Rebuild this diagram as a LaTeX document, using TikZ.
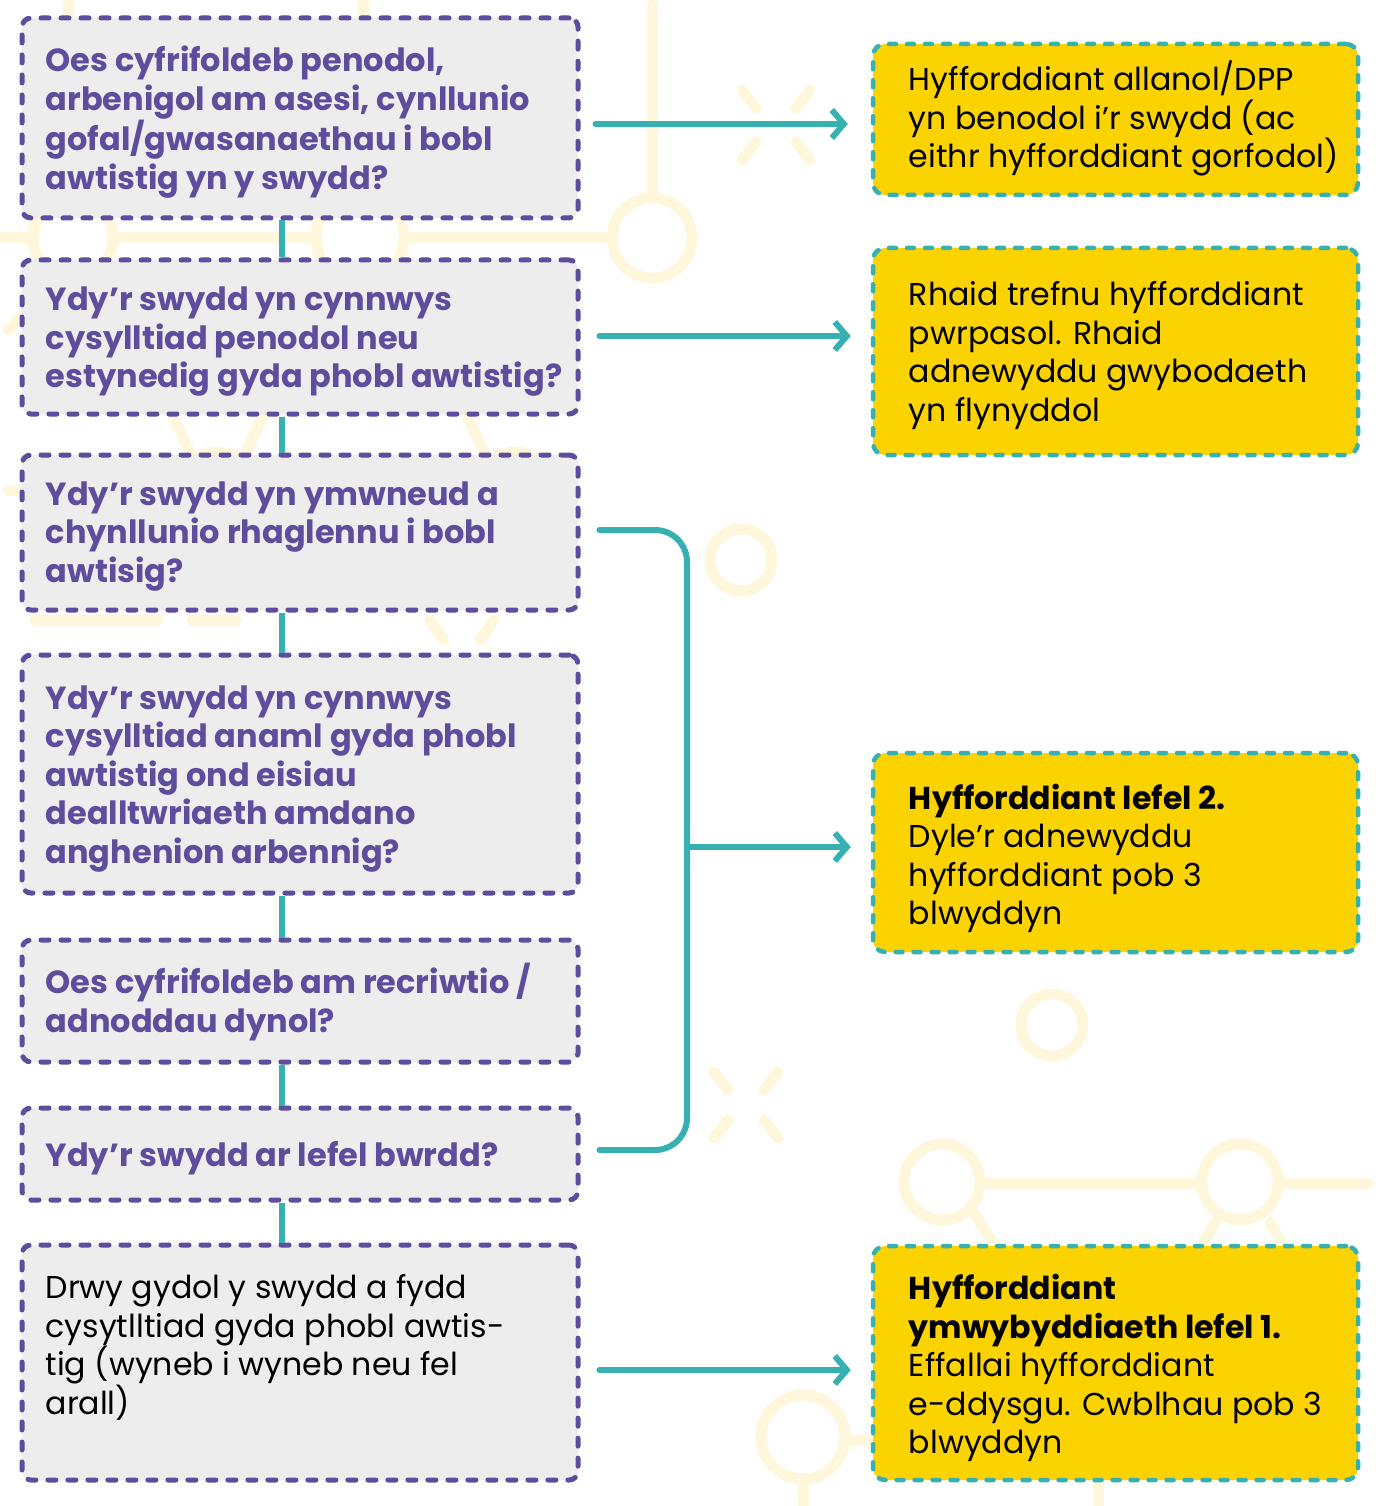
\documentclass[tikz,border=0pt]{standalone}
\usepackage{fontspec}
\setmainfont{Poppins}
\usetikzlibrary{arrows.meta,calc}
\definecolor{purp}{HTML}{5E4C9C}
\definecolor{boxgray}{HTML}{EDEDED}
\definecolor{yel}{HTML}{FBD300}
\definecolor{tealc}{HTML}{37B0B2}
\definecolor{cream}{HTML}{FFF7DC}
\tikzset{
  qbox/.style={draw=purp, fill=boxgray, line width=5pt, dash pattern=on 8pt off 12pt, line cap=round, rounded corners=9pt, inner sep=0pt, minimum width=556pt},
  abox/.style={draw=tealc, fill=yel, line width=4.5pt, dash pattern=on 7pt off 11pt, line cap=round, rounded corners=12pt, inner sep=0pt, minimum width=485pt},
  qtext/.style={anchor=west, inner sep=0pt, align=left, text=purp, font=\bfseries\fontsize{32}{38.5}\selectfont},
  atext/.style={anchor=west, inner sep=0pt, align=left, text=black, font=\fontsize{31.6}{38.5}\selectfont},
  link/.style={draw=tealc, line width=6pt, line cap=round},
  arr/.style={link, -{Straight Barb[length=12pt,width=28pt]}},
  deco/.style={draw=cream, line width=11pt, line cap=round},
  decoring/.style={draw=cream, line width=11pt, fill=white},
}
\begin{document}
\begin{tikzpicture}[x=1pt,y=-1pt]
\useasboundingbox (0,0) rectangle (1375,1506);
\fill[white] (0,0) rectangle (1375,1506);
% background decoration
\draw[deco] (0,238) -- (612,238);
\draw[deco] (652,5) -- (652,198);
\draw[deco] (68,0) -- (68,200);
\draw[deco] (363,0) -- (363,196);
\draw[decoring] (73,238) circle[radius=40];
\draw[decoring] (360,238) circle[radius=44];
\draw[decoring] (652,238) circle[radius=40];
\draw[deco] (742,90) -- (756,108);
\draw[deco] (810,90) -- (796,108);
\draw[deco] (756,142) -- (742,160);
\draw[deco] (796,142) -- (810,160);
\draw[deco] (172,414) -- (190,452);
\draw[deco] (264,414) -- (246,452);
\draw[decoring] (217,492) circle[radius=40];
\draw[deco] (466,414) -- (484,452);
\draw[decoring] (515,492) circle[radius=40];
\draw[deco] (35,620) -- (158,620);
\draw[deco] (192,620) -- (236,620);
\draw[deco] (430,620) -- (444,640);
\draw[deco] (494,620) -- (480,640);
\draw[deco] (8,490) -- (20,490);
\draw[deco] (8,330) -- (20,318);
\draw[decoring] (741,560) circle[radius=31];
\draw[decoring] (1052,1025) circle[radius=31];
\draw[deco] (714,1072) -- (728,1090);
\draw[deco] (778,1072) -- (764,1090);
\draw[deco] (728,1120) -- (714,1138);
\draw[deco] (764,1120) -- (778,1138);
\draw[deco] (942,1183) -- (1368,1183);
\draw[deco] (975,1215) -- (998,1250);
\draw[deco] (1215,1222) -- (1200,1250);
\draw[deco] (1270,1222) -- (1285,1250);
\draw[decoring] (942,1182) circle[radius=38];
\draw[decoring] (1240,1182) circle[radius=38];
\draw[deco] (800,1440) -- (873,1440);
\draw[deco] (803,1480) -- (803,1506);
\draw[deco] (1098,1480) -- (1098,1506);
\draw[decoring] (803,1437) circle[radius=42];
% question boxes
\node[qbox, minimum height=200pt] (q1) at (300,118) {};
\node[qbox, minimum height=154pt] (q2) at (300,337) {};
\node[qbox, minimum height=155pt] (q3) at (300,532.5) {};
\node[qbox, minimum height=238pt] (q4) at (300,774) {};
\node[qbox, minimum height=122pt] (q5) at (300,1001) {};
\node[qbox, minimum height=92pt] (q6) at (300,1154) {};
\node[qbox, minimum height=235pt] (q7) at (300,1362.5) {};
% answer boxes
\node[abox, minimum height=151pt] (r1) at (1115.5,119.5) {};
\node[abox, minimum height=207pt] (r2) at (1115.5,351.5) {};
\node[abox, minimum height=199pt] (r3) at (1115.5,852.5) {};
\node[abox, minimum height=234pt] (r4) at (1115.5,1363) {};
% texts
\node[qtext] (t1) at ($(q1.west)+(26,4)$) {Oes cyfrifoldeb penodol,\\arbenigol am asesi, cynllunio\\gofal/gwasanaethau i bobl\\awtistig yn y swydd?};
\node[qtext] (t2) at ($(q2.west)+(26,5)$) {Ydy’r swydd yn cynnwys\\cysylltiad penodol neu\\estynedig gyda phobl awtistig?};
\node[qtext] (t3) at ($(q3.west)+(26,4)$) {Ydy’r swydd yn ymwneud a\\chynllunio rhaglennu i bobl\\awtisig?};
\node[qtext] (t4) at ($(q4.west)+(26,5)$) {Ydy’r swydd yn cynnwys\\cysylltiad anaml gyda phobl\\awtistig ond eisiau\\dealltwriaeth amdano\\anghenion arbennig?};
\node[qtext] (t5) at ($(q5.west)+(26,1)$) {Oes cyfrifoldeb am recriwtio /\\adnoddau dynol?};
\node[qtext] (t6) at ($(q6.west)+(26,4)$) {Ydy’r swydd ar lefel bwrdd?};
\node[atext] (t7) at ($(q7.west)+(26,-15)$) {Drwy gydol y swydd a fydd\\cysytlltiad gyda phobl awtis-\\tig (wyneb i wyneb neu fel\\arall)};
\node[atext] (s1) at ($(r1.west)+(38,-1)$) {Hyfforddiant allanol/DPP\\yn benodol i’r swydd (ac\\eithr hyfforddiant gorfodol)};
\node[atext] (s2) at ($(r2.west)+(38,4)$) {Rhaid trefnu hyfforddiant\\pwrpasol. Rhaid\\adnewyddu gwybodaeth\\yn flynyddol};
\node[atext] (s3) at ($(r3.west)+(38,6)$) {\textbf{Hyfforddiant lefel 2.}\\Dyle’r adnewyddu\\hyfforddiant pob 3\\blwyddyn};
\node[atext] (s4) at ($(r4.west)+(38,5)$) {\textbf{Hyfforddiant}\\\textbf{ymwybyddiaeth lefel 1.}\\Effallai hyfforddiant\\e-ddysgu. Cwblhau pob 3\\blwyddyn};
% vertical connectors
\coordinate (cx) at (282,0);
\draw[link, line cap=butt] (q1.south -| cx) -- (q2.north -| cx);
\draw[link, line cap=butt] (q2.south -| cx) -- (q3.north -| cx);
\draw[link, line cap=butt] (q3.south -| cx) -- (q4.north -| cx);
\draw[link, line cap=butt] (q4.south -| cx) -- (q5.north -| cx);
\draw[link, line cap=butt] (q5.south -| cx) -- (q6.north -| cx);
\draw[link, line cap=butt] (q6.south -| cx) -- (q7.north -| cx);
% arrows
\coordinate (y1) at (0,124);
\coordinate (y2) at (0,336);
\coordinate (y3) at (0,530);
\coordinate (y4) at (0,847);
\coordinate (y5) at (0,1150);
\coordinate (y6) at (0,1370);
\coordinate (bx) at (687,0);
\draw[arr] ($(q1.east |- y1)+(15,0)$) -- ($(r1.west |- y1)+(-23,0)$);
\draw[arr] ($(q2.east |- y2)+(19,0)$) -- ($(r2.west |- y2)+(-20,0)$);
\draw[link, rounded corners=32pt] ($(q3.east |- y3)+(19,0)$) -- (bx |- y3) -- (bx |- y5) -- ($(q6.east |- y5)+(19,0)$);
\draw[arr] (bx |- y4) -- ($(r3.west |- y4)+(-20,0)$);
\draw[arr] ($(q7.east |- y6)+(19,0)$) -- ($(r4.west |- y6)+(-20,0)$);
\end{tikzpicture}
\end{document}
